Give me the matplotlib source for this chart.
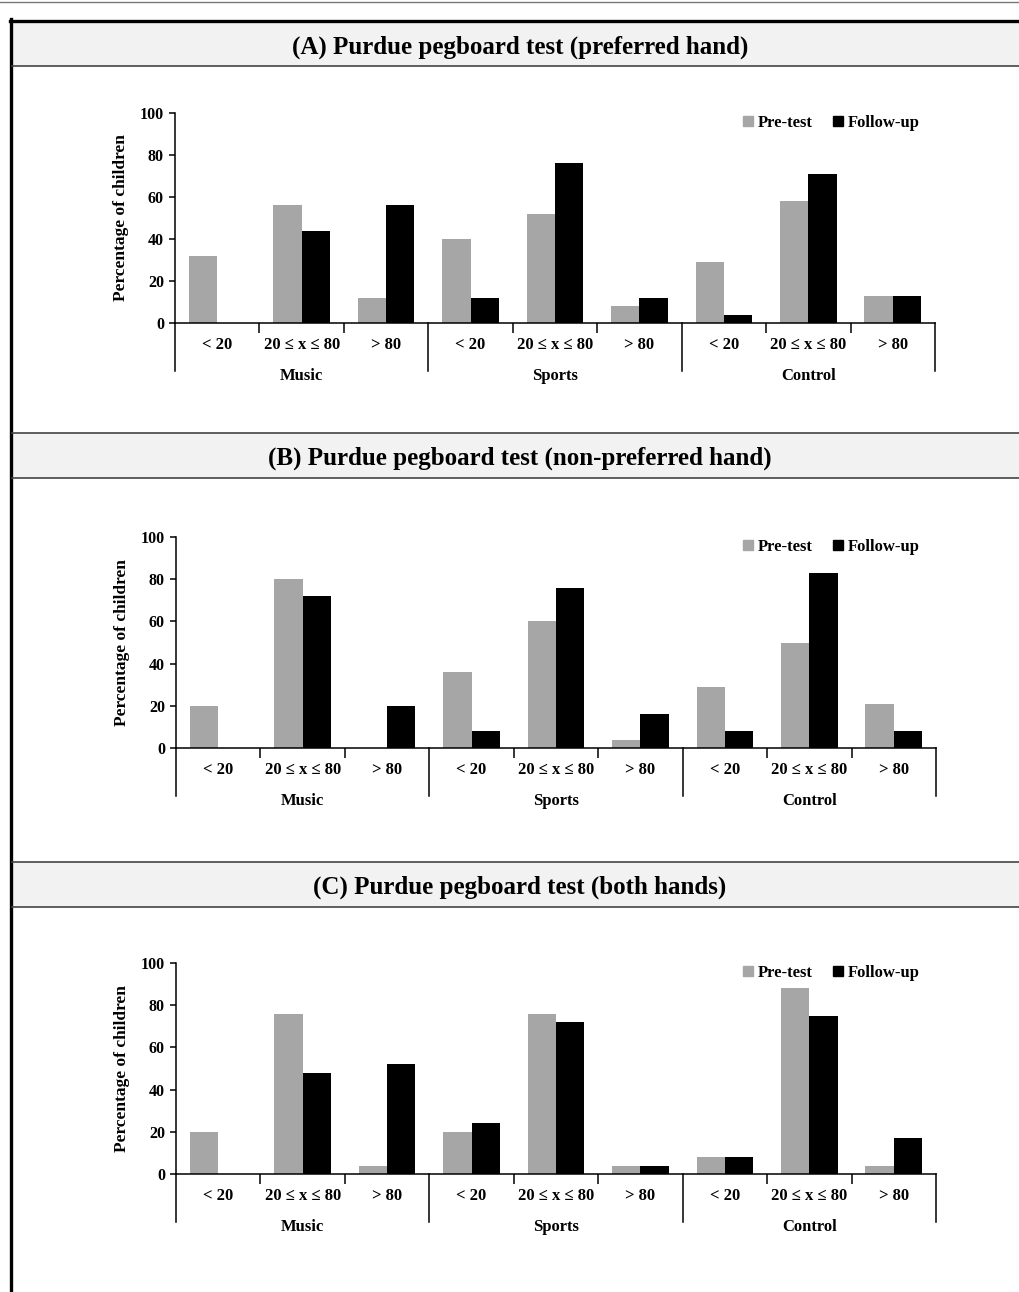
import matplotlib.pyplot as plt
from matplotlib.lines import Line2D
from matplotlib.patches import Rectangle, Patch

plt.rcParams['font.family'] = ['Liberation Serif', 'DejaVu Serif']
plt.rcParams['font.weight'] = 'bold'

# Daten
categories = ['< 20', '20 ≤ x ≤ 80', '> 80'] * 3
groups = ['Music', 'Sports', 'Control']
titles = ['(A) Purdue pegboard test (preferred hand)',
          '(B) Purdue pegboard test (non-preferred hand)',
          '(C) Purdue pegboard test (both hands)']
pre_A = [32, 56, 12, 40, 52, 8, 29, 58, 13]
fu_A = [0, 44, 56, 12, 76, 12, 4, 71, 13]
pre_B = [20, 80, 0, 36, 60, 4, 29, 50, 21]
fu_B = [0, 72, 20, 8, 76, 16, 8, 83, 8]
pre_C = [20, 76, 4, 20, 76, 4, 8, 88, 4]
fu_C = [0, 48, 52, 24, 72, 4, 8, 75, 17]
yticks = [0, 20, 40, 60, 80, 100]

W, H = 1019, 1292
fig = plt.figure(figsize=(W / 100, H / 100), dpi=100)


def fx(x):
    return x / W


def fy(y):
    return 1 - y / H


def hline(y, x0, x1, lw, color):
    fig.add_artist(Line2D([fx(x0), fx(x1)], [fy(y), fy(y)], lw=lw, color=color,
                          transform=fig.transFigure))


# Rahmen
hline(2, 0, W, 1.0, '#777777')
fig.add_artist(Line2D([fx(11), fx(11)], [fy(19), fy(H)], lw=2.4, color='black',
                      transform=fig.transFigure))

# (band top, band bottom, axes left, right, top, bottom, legend y)
layout = [(22, 66, 175, 935, 113, 323, 122),
          (433, 478, 176, 936, 537, 748, 546),
          (862, 907, 176, 936, 963, 1174, 972)]
data = [(pre_A, fu_A), (pre_B, fu_B), (pre_C, fu_C)]

gray = '#a6a6a6'
w = 0.335
x = list(range(9))

for i, (lay, (pre, fu), title) in enumerate(zip(layout, data, titles)):
    bt, bb, l, r, t, b, ly = lay
    fig.add_artist(Rectangle((fx(12), fy(bb)), fx(W) - fx(12), fy(bt) - fy(bb),
                             facecolor='#f2f2f2', edgecolor='none',
                             transform=fig.transFigure))
    if i == 0:
        hline(bt - 1.5, 10, W, 2.4, 'black')
    else:
        hline(bt, 12, W, 1.2, '#444444')
    hline(bb, 12, W, 1.2, '#444444')
    fig.text(fx(520), fy((bt + bb) / 2 + 3), title, ha='center', va='center',
             fontsize=18, fontweight='bold')

    ax = fig.add_axes([fx(l), fy(b), fx(r) - fx(l), fy(t) - fy(b)])
    ax.bar([v - w for v in x], pre, width=w, align='edge', color=gray,
           label='Pre-test')
    ax.bar(x, fu, width=w, align='edge', color='black', label='Follow-up')
    ax.set_xlim(-0.5, 8.5)
    ax.set_ylim(0, 100)
    ax.set_yticks(yticks)
    ax.tick_params(axis='y', direction='out', length=4, width=1.1,
                   labelsize=11.5, pad=4)
    ax.set_xticks([0.5, 1.5, 3.5, 4.5, 6.5, 7.5])
    ax.set_xticklabels([])
    ax.tick_params(axis='x', direction='out', length=7.5, width=1.1)
    for s in ['top', 'right']:
        ax.spines[s].set_visible(False)
    for s in ['left', 'bottom']:
        ax.spines[s].set_linewidth(1.1)
    ax.set_ylabel('Percentage of children', fontsize=12.5, fontweight='bold',
                  labelpad=8)

    hpx = b - t
    trans = ax.get_xaxis_transform()
    for g in [-0.5, 2.5, 5.5, 8.5]:
        ax.plot([g, g], [0, -48 / hpx], transform=trans, clip_on=False,
                color='black', lw=1.1)
    for k, c in enumerate(categories):
        ax.text(k, -22 / hpx, c, transform=trans, ha='center', va='center',
                fontsize=12)
    for k, g in enumerate(groups):
        ax.text(3 * k + 1, -53 / hpx, g, transform=trans, ha='center',
                va='center', fontsize=12)

    handles = [Patch(color=gray, label='Pre-test'),
               Patch(color='black', label='Follow-up')]
    ax.legend(handles=handles, ncol=2, frameon=False, loc='center',
              bbox_to_anchor=(fx(831), fy(ly + 1)), bbox_transform=fig.transFigure,
              handlelength=0.6, handleheight=0.6, handletextpad=0.3,
              columnspacing=1.2, fontsize=12)

fig.savefig('out.png', dpi=100)
